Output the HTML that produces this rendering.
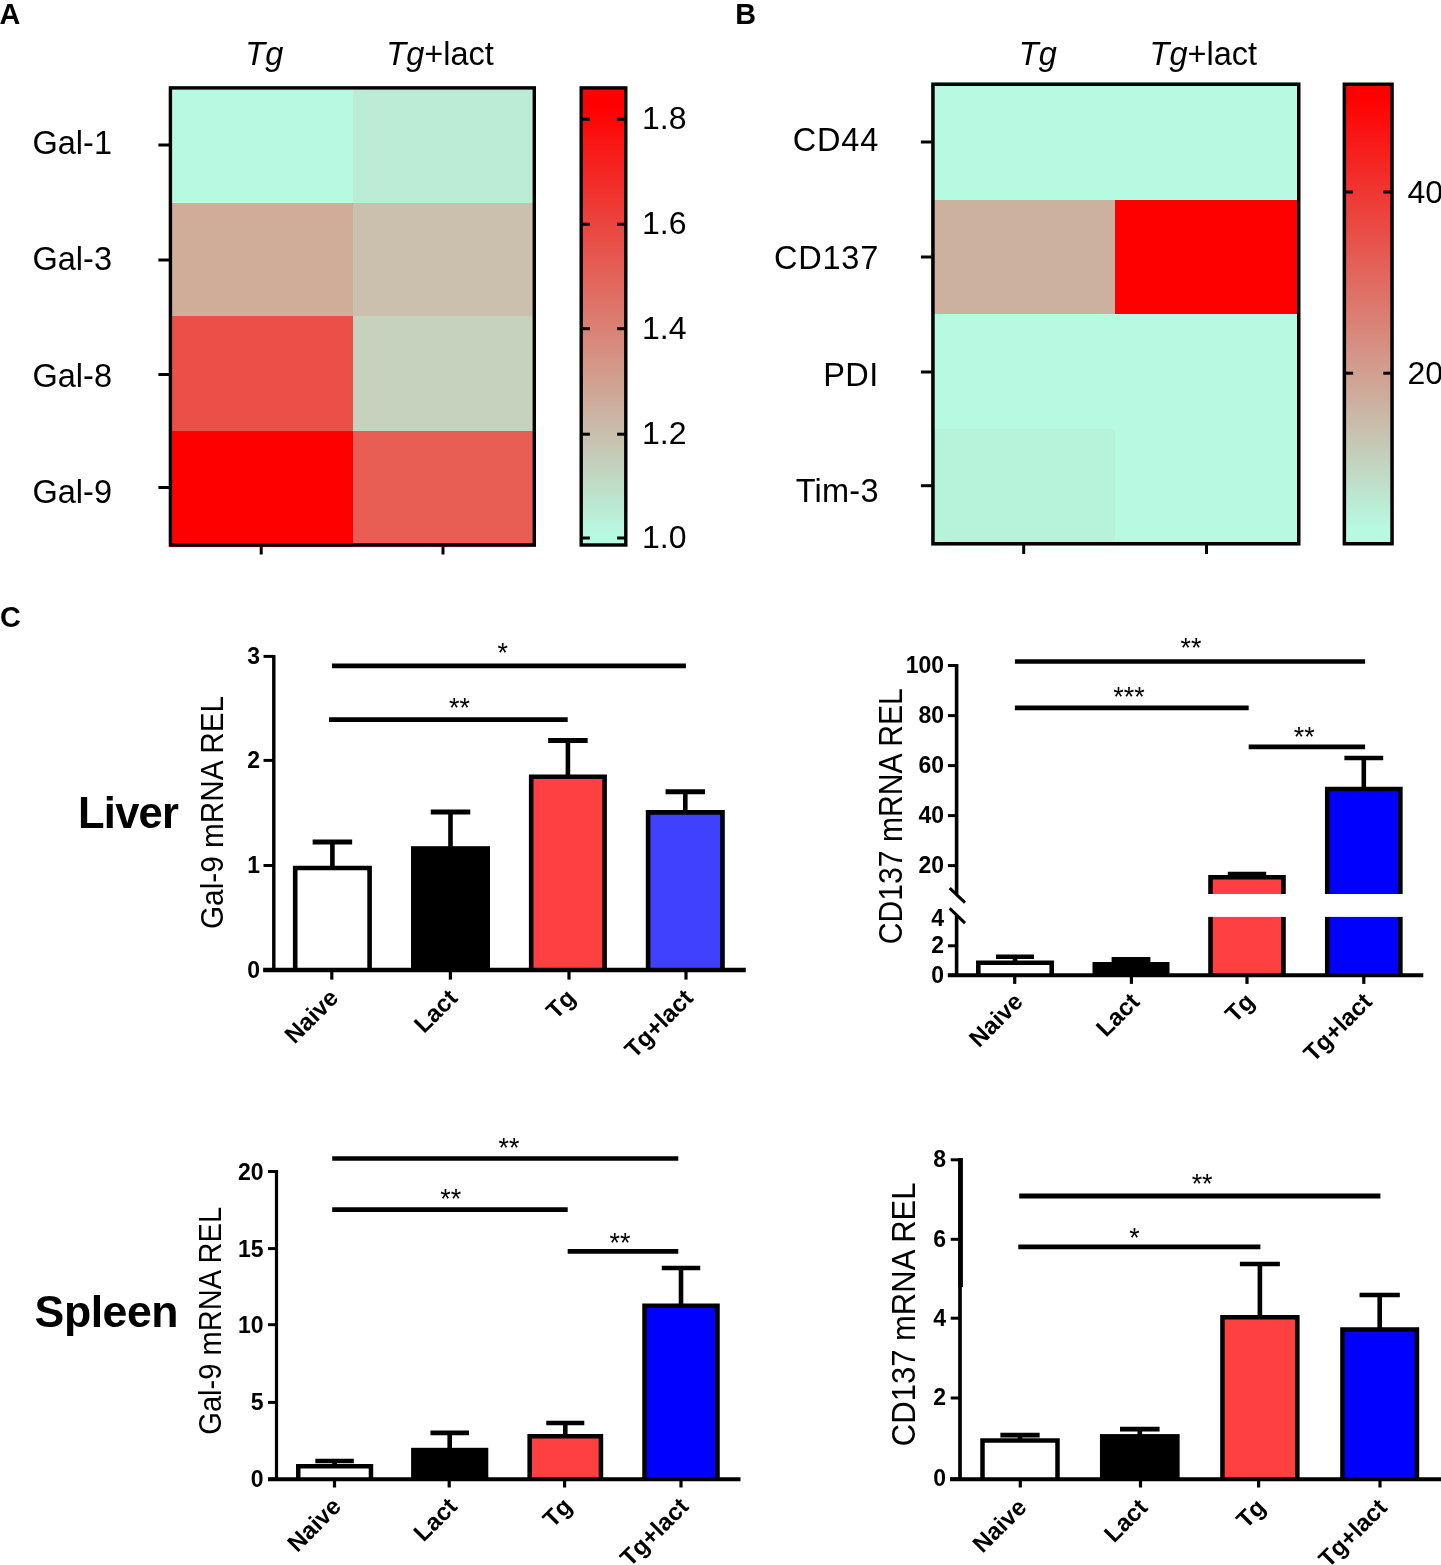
<!DOCTYPE html>
<html lang="en"><head><meta charset="utf-8"><title>Figure</title>
<style>html,body{margin:0;padding:0;background:#fff}body{width:1441px;height:1565px;overflow:hidden}svg{display:block;will-change:transform}text{font-family:"Liberation Sans", sans-serif;fill:#000}</style></head><body>
<svg width="1441" height="1565" viewBox="0 0 1441 1565">
<rect x="0" y="0" width="1441" height="1565" fill="#fff"/>
<text x="-0.5" y="24.1" font-size="28.8" font-weight="bold">A</text>
<text x="735.3" y="24.1" font-size="28.8" font-weight="bold">B</text>
<text x="-0.1" y="627.1" font-size="28.8" font-weight="bold">C</text>
<rect x="169" y="86" width="184" height="117" fill="#b7fae2"/>
<rect x="353" y="86" width="183" height="117" fill="#bcecd6"/>
<rect x="169" y="203" width="184" height="113" fill="#cfad99"/>
<rect x="353" y="203" width="183" height="113" fill="#cbc0ad"/>
<rect x="169" y="316" width="184" height="115" fill="#ec4e48"/>
<rect x="353" y="316" width="183" height="115" fill="#c6d2be"/>
<rect x="169" y="431" width="184" height="116" fill="#ff0000"/>
<rect x="353" y="431" width="183" height="116" fill="#e85e54"/>
<rect x="170.4" y="87.9" width="363.9" height="457.1" fill="none" stroke="#000" stroke-width="3.4"/>
<line x1="158.4" y1="145" x2="169.2" y2="145" stroke="#000" stroke-width="3" stroke-linecap="butt"/>
<line x1="158.4" y1="260" x2="169.2" y2="260" stroke="#000" stroke-width="3" stroke-linecap="butt"/>
<line x1="158.4" y1="374.5" x2="169.2" y2="374.5" stroke="#000" stroke-width="3" stroke-linecap="butt"/>
<line x1="158.4" y1="487.5" x2="169.2" y2="487.5" stroke="#000" stroke-width="3" stroke-linecap="butt"/>
<line x1="261.2" y1="546.2" x2="261.2" y2="554.5" stroke="#000" stroke-width="3" stroke-linecap="butt"/>
<line x1="443" y1="546.2" x2="443" y2="554.5" stroke="#000" stroke-width="3" stroke-linecap="butt"/>
<text x="32.5" y="154" font-size="32.5">Gal-1</text>
<text x="32.5" y="270" font-size="32.5">Gal-3</text>
<text x="32.5" y="387" font-size="32.5">Gal-8</text>
<text x="32.5" y="503" font-size="32.5">Gal-9</text>
<text x="245.3" y="64.5" font-size="32.5"><tspan font-style="italic">Tg</tspan></text>
<text x="386.3" y="64.5" font-size="32.5"><tspan font-style="italic">Tg</tspan>+lact</text>
<defs><linearGradient id="gA" x1="0" y1="0" x2="0" y2="1">
<stop offset="0" stop-color="#ff0000"/>
<stop offset="0.04" stop-color="#ff0000"/>
<stop offset="0.98" stop-color="#b7fae2"/>
<stop offset="1" stop-color="#b7fae2"/>
</linearGradient></defs>
<rect x="581.2" y="87.9" width="44.6" height="457.1" fill="url(#gA)" stroke="#000" stroke-width="3.4"/>
<line x1="582.4" y1="119.2" x2="589.9" y2="119.2" stroke="#000" stroke-width="3" stroke-linecap="butt"/>
<line x1="617.1" y1="119.2" x2="624.6" y2="119.2" stroke="#000" stroke-width="3" stroke-linecap="butt"/>
<text x="642" y="128.7" font-size="32">1.8</text>
<line x1="582.4" y1="224.2" x2="589.9" y2="224.2" stroke="#000" stroke-width="3" stroke-linecap="butt"/>
<line x1="617.1" y1="224.2" x2="624.6" y2="224.2" stroke="#000" stroke-width="3" stroke-linecap="butt"/>
<text x="642" y="233.7" font-size="32">1.6</text>
<line x1="582.4" y1="328.7" x2="589.9" y2="328.7" stroke="#000" stroke-width="3" stroke-linecap="butt"/>
<line x1="617.1" y1="328.7" x2="624.6" y2="328.7" stroke="#000" stroke-width="3" stroke-linecap="butt"/>
<text x="642" y="338.7" font-size="32">1.4</text>
<line x1="582.4" y1="434.2" x2="589.9" y2="434.2" stroke="#000" stroke-width="3" stroke-linecap="butt"/>
<line x1="617.1" y1="434.2" x2="624.6" y2="434.2" stroke="#000" stroke-width="3" stroke-linecap="butt"/>
<text x="642" y="443.7" font-size="32">1.2</text>
<line x1="582.4" y1="538" x2="589.9" y2="538" stroke="#000" stroke-width="3" stroke-linecap="butt"/>
<line x1="617.1" y1="538" x2="624.6" y2="538" stroke="#000" stroke-width="3" stroke-linecap="butt"/>
<text x="642" y="547.5" font-size="32">1.0</text>
<rect x="931" y="82" width="184" height="118" fill="#b7fae2"/>
<rect x="1115" y="82" width="185" height="118" fill="#b7fae2"/>
<rect x="931" y="200" width="184" height="114" fill="#cdb19f"/>
<rect x="1115" y="200" width="185" height="114" fill="#ff0000"/>
<rect x="931" y="314" width="184" height="115" fill="#b7fae2"/>
<rect x="1115" y="314" width="185" height="115" fill="#b7fae2"/>
<rect x="931" y="429" width="184" height="117" fill="#b7f2da"/>
<rect x="1115" y="429" width="185" height="117" fill="#b7fae2"/>
<rect x="932.95" y="84.25" width="365.8" height="459.5" fill="none" stroke="#000" stroke-width="3.5"/>
<line x1="920.9" y1="142" x2="931.7" y2="142" stroke="#000" stroke-width="3" stroke-linecap="butt"/>
<line x1="920.9" y1="257" x2="931.7" y2="257" stroke="#000" stroke-width="3" stroke-linecap="butt"/>
<line x1="920.9" y1="372" x2="931.7" y2="372" stroke="#000" stroke-width="3" stroke-linecap="butt"/>
<line x1="920.9" y1="485.7" x2="931.7" y2="485.7" stroke="#000" stroke-width="3" stroke-linecap="butt"/>
<line x1="1023.7" y1="545" x2="1023.7" y2="554" stroke="#000" stroke-width="3" stroke-linecap="butt"/>
<line x1="1206.5" y1="545" x2="1206.5" y2="554" stroke="#000" stroke-width="3" stroke-linecap="butt"/>
<text x="879.1" y="150.7" font-size="32.5" text-anchor="end" letter-spacing="0.8">CD44</text>
<text x="879.1" y="268.7" font-size="32.5" text-anchor="end" letter-spacing="0.8">CD137</text>
<text x="878.7" y="385.5" font-size="32.5" text-anchor="end" letter-spacing="0.4">PDI</text>
<text x="878.75" y="502" font-size="32.5" text-anchor="end" letter-spacing="0.25">Tim-3</text>
<text x="1018.8" y="64.5" font-size="32.5"><tspan font-style="italic">Tg</tspan></text>
<text x="1149.6" y="64.5" font-size="32.5"><tspan font-style="italic">Tg</tspan>+lact</text>
<defs><linearGradient id="gB" x1="0" y1="0" x2="0" y2="1">
<stop offset="0" stop-color="#ff0000"/>
<stop offset="0.03" stop-color="#ff0000"/>
<stop offset="0.97" stop-color="#b7fae2"/>
<stop offset="1" stop-color="#b7fae2"/>
</linearGradient></defs>
<rect x="1344.35" y="84.25" width="47.7" height="459.5" fill="url(#gB)" stroke="#000" stroke-width="3.5"/>
<line x1="1345.6" y1="192" x2="1353.1" y2="192" stroke="#000" stroke-width="3" stroke-linecap="butt"/>
<line x1="1383.3" y1="192" x2="1390.8" y2="192" stroke="#000" stroke-width="3" stroke-linecap="butt"/>
<text x="1407.5" y="202.5" font-size="32">40</text>
<line x1="1345.6" y1="373.2" x2="1353.1" y2="373.2" stroke="#000" stroke-width="3" stroke-linecap="butt"/>
<line x1="1383.3" y1="373.2" x2="1390.8" y2="373.2" stroke="#000" stroke-width="3" stroke-linecap="butt"/>
<text x="1407.5" y="383.7" font-size="32">20</text>
<line x1="332.4" y1="842" x2="332.4" y2="866.7" stroke="#000" stroke-width="4.6" stroke-linecap="butt"/>
<line x1="312.65" y1="842" x2="352.15" y2="842" stroke="#000" stroke-width="5" stroke-linecap="butt"/>
<rect x="295.2" y="868" width="74.4" height="102" fill="#fff"/>
<path d="M295.2 970 V868 H369.6 V970" fill="none" stroke="#000" stroke-width="4.6"/>
<line x1="450.5" y1="812" x2="450.5" y2="847.2" stroke="#000" stroke-width="4.6" stroke-linecap="butt"/>
<line x1="430.75" y1="812" x2="470.25" y2="812" stroke="#000" stroke-width="5" stroke-linecap="butt"/>
<rect x="411" y="846.2" width="79" height="123.8" fill="#000"/>
<line x1="567.9" y1="740.5" x2="567.9" y2="775.4" stroke="#000" stroke-width="4.6" stroke-linecap="butt"/>
<line x1="548.15" y1="740.5" x2="587.65" y2="740.5" stroke="#000" stroke-width="5" stroke-linecap="butt"/>
<rect x="531.2" y="776.7" width="73.4" height="193.3" fill="#ff4040"/>
<path d="M531.2 970 V776.7 H604.6 V970" fill="none" stroke="#000" stroke-width="4.6"/>
<line x1="685.3" y1="791.8" x2="685.3" y2="811.1" stroke="#000" stroke-width="4.6" stroke-linecap="butt"/>
<line x1="665.55" y1="791.8" x2="705.05" y2="791.8" stroke="#000" stroke-width="5" stroke-linecap="butt"/>
<rect x="648.1" y="812.4" width="74.4" height="157.6" fill="#4040ff"/>
<path d="M648.1 970 V812.4 H722.5 V970" fill="none" stroke="#000" stroke-width="4.6"/>
<line x1="263.2" y1="970" x2="745.8" y2="970" stroke="#000" stroke-width="4.4" stroke-linecap="butt"/>
<line x1="273.8" y1="654.9" x2="273.8" y2="970" stroke="#000" stroke-width="3.4" stroke-linecap="butt"/>
<line x1="263.5" y1="656.4" x2="273.8" y2="656.4" stroke="#000" stroke-width="3" stroke-linecap="butt"/>
<text x="260" y="663.9" font-size="23" font-weight="bold" text-anchor="end">3</text>
<line x1="263.5" y1="760.4" x2="273.8" y2="760.4" stroke="#000" stroke-width="3" stroke-linecap="butt"/>
<text x="260" y="767.9" font-size="23" font-weight="bold" text-anchor="end">2</text>
<line x1="263.5" y1="865.5" x2="273.8" y2="865.5" stroke="#000" stroke-width="3" stroke-linecap="butt"/>
<text x="260" y="873" font-size="23" font-weight="bold" text-anchor="end">1</text>
<line x1="263.5" y1="970" x2="273.8" y2="970" stroke="#000" stroke-width="3" stroke-linecap="butt"/>
<text x="260" y="977.5" font-size="23" font-weight="bold" text-anchor="end">0</text>
<line x1="331.8" y1="970" x2="331.8" y2="979.6" stroke="#000" stroke-width="3.2" stroke-linecap="butt"/>
<text x="339.8" y="999.4" font-size="24" font-weight="bold" text-anchor="end" transform="rotate(-45 339.8 999.4)">Naive</text>
<line x1="450.4" y1="970" x2="450.4" y2="979.6" stroke="#000" stroke-width="3.2" stroke-linecap="butt"/>
<text x="458.8" y="999.4" font-size="24" font-weight="bold" text-anchor="end" transform="rotate(-45 458.8 999.4)">Lact</text>
<line x1="569" y1="970" x2="569" y2="979.6" stroke="#000" stroke-width="3.2" stroke-linecap="butt"/>
<text x="576.8" y="999.4" font-size="24" font-weight="bold" text-anchor="end" transform="rotate(-45 576.8 999.4)">Tg</text>
<line x1="686" y1="970" x2="686" y2="979.6" stroke="#000" stroke-width="3.2" stroke-linecap="butt"/>
<text x="694.3" y="999.4" font-size="24" font-weight="bold" text-anchor="end" transform="rotate(-45 694.3 999.4)">Tg+lact</text>
<text font-size="32" text-anchor="middle" transform="translate(223 812.5) rotate(-90) scale(0.93 1)">Gal-9 mRNA REL</text>
<line x1="332" y1="665.8" x2="685.9" y2="665.8" stroke="#000" stroke-width="4.8" stroke-linecap="butt"/>
<text x="502.7" y="661.6" font-size="26.8" text-anchor="middle">*</text>
<line x1="329" y1="719.6" x2="567.7" y2="719.6" stroke="#000" stroke-width="4.8" stroke-linecap="butt"/>
<text x="459.5" y="716.6" font-size="26.8" text-anchor="middle">**</text>
<line x1="1015" y1="956.7" x2="1015" y2="961.4" stroke="#000" stroke-width="4.6" stroke-linecap="butt"/>
<line x1="996" y1="956.7" x2="1034" y2="956.7" stroke="#000" stroke-width="4.6" stroke-linecap="butt"/>
<rect x="978.3" y="962.7" width="73.4" height="12.6" fill="#fff"/>
<path d="M978.3 975.3 V962.7 H1051.7 V975.3" fill="none" stroke="#000" stroke-width="4.6"/>
<line x1="1131" y1="959.8" x2="1131" y2="963" stroke="#000" stroke-width="4.6" stroke-linecap="butt"/>
<line x1="1111.6" y1="959.8" x2="1150.4" y2="959.8" stroke="#000" stroke-width="5.4" stroke-linecap="butt"/>
<rect x="1092.5" y="962" width="77" height="13.3" fill="#000"/>
<line x1="1247" y1="874" x2="1247" y2="876" stroke="#000" stroke-width="4.6" stroke-linecap="butt"/>
<line x1="1227.8" y1="874" x2="1266.2" y2="874" stroke="#000" stroke-width="4.6" stroke-linecap="butt"/>
<rect x="1210.5" y="877.3" width="73" height="98" fill="#ff4040"/>
<path d="M1210.5 975.3 V877.3 H1283.5 V975.3" fill="none" stroke="#000" stroke-width="4.6"/>
<line x1="1363.8" y1="758" x2="1363.8" y2="787.7" stroke="#000" stroke-width="4.6" stroke-linecap="butt"/>
<line x1="1344.4" y1="758" x2="1383.2" y2="758" stroke="#000" stroke-width="4.6" stroke-linecap="butt"/>
<rect x="1327.25" y="789" width="73.1" height="186.3" fill="#0000ff"/>
<path d="M1327.25 975.3 V789 H1400.35 V975.3" fill="none" stroke="#000" stroke-width="4.6"/>
<rect x="1200" y="894" width="210" height="22.9" fill="#fff"/>
<line x1="947.9" y1="975.3" x2="1423.3" y2="975.3" stroke="#000" stroke-width="4" stroke-linecap="butt"/>
<line x1="956.6" y1="664" x2="956.6" y2="894" stroke="#000" stroke-width="3.6" stroke-linecap="butt"/>
<line x1="956.6" y1="915.7" x2="956.6" y2="975.3" stroke="#000" stroke-width="3.6" stroke-linecap="butt"/>
<line x1="949.7" y1="888.2" x2="965" y2="902.7" stroke="#000" stroke-width="3" stroke-linecap="butt"/>
<line x1="949.7" y1="908.4" x2="965" y2="923.2" stroke="#000" stroke-width="3" stroke-linecap="butt"/>
<line x1="947.9" y1="665.5" x2="956.6" y2="665.5" stroke="#000" stroke-width="3" stroke-linecap="butt"/>
<text x="944" y="673.1" font-size="23" font-weight="bold" text-anchor="end">100</text>
<line x1="947.9" y1="715.6" x2="956.6" y2="715.6" stroke="#000" stroke-width="3" stroke-linecap="butt"/>
<text x="944" y="723.2" font-size="23" font-weight="bold" text-anchor="end">80</text>
<line x1="947.9" y1="765.6" x2="956.6" y2="765.6" stroke="#000" stroke-width="3" stroke-linecap="butt"/>
<text x="944" y="773.2" font-size="23" font-weight="bold" text-anchor="end">60</text>
<line x1="947.9" y1="815.6" x2="956.6" y2="815.6" stroke="#000" stroke-width="3" stroke-linecap="butt"/>
<text x="944" y="823.2" font-size="23" font-weight="bold" text-anchor="end">40</text>
<line x1="947.9" y1="865.6" x2="956.6" y2="865.6" stroke="#000" stroke-width="3" stroke-linecap="butt"/>
<text x="944" y="873.2" font-size="23" font-weight="bold" text-anchor="end">20</text>
<line x1="947.9" y1="945.8" x2="956.6" y2="945.8" stroke="#000" stroke-width="3" stroke-linecap="butt"/>
<text x="944" y="953.4" font-size="23" font-weight="bold" text-anchor="end">2</text>
<line x1="947.9" y1="975.3" x2="956.6" y2="975.3" stroke="#000" stroke-width="3" stroke-linecap="butt"/>
<text x="944" y="982.9" font-size="23" font-weight="bold" text-anchor="end">0</text>
<text x="944" y="925.6" font-size="23" font-weight="bold" text-anchor="end">4</text>
<line x1="1014.7" y1="975.3" x2="1014.7" y2="983.9" stroke="#000" stroke-width="3.2" stroke-linecap="butt"/>
<text x="1024.3" y="1003.1" font-size="24" font-weight="bold" text-anchor="end" transform="rotate(-45 1024.3 1003.1)">Naive</text>
<line x1="1131.4" y1="975.3" x2="1131.4" y2="983.9" stroke="#000" stroke-width="3.2" stroke-linecap="butt"/>
<text x="1140.8" y="1003.1" font-size="24" font-weight="bold" text-anchor="end" transform="rotate(-45 1140.8 1003.1)">Lact</text>
<line x1="1247" y1="975.3" x2="1247" y2="983.9" stroke="#000" stroke-width="3.2" stroke-linecap="butt"/>
<text x="1255.8" y="1003.1" font-size="24" font-weight="bold" text-anchor="end" transform="rotate(-45 1255.8 1003.1)">Tg</text>
<line x1="1363.8" y1="975.3" x2="1363.8" y2="983.9" stroke="#000" stroke-width="3.2" stroke-linecap="butt"/>
<text x="1373.3" y="1003.1" font-size="24" font-weight="bold" text-anchor="end" transform="rotate(-45 1373.3 1003.1)">Tg+lact</text>
<text font-size="32.4" text-anchor="middle" transform="translate(902 816.2) rotate(-90) scale(0.93 1)">CD137 mRNA REL</text>
<line x1="1014.9" y1="661.5" x2="1365.1" y2="661.5" stroke="#000" stroke-width="4.7" stroke-linecap="butt"/>
<text x="1191" y="656.9" font-size="26.8" text-anchor="middle">**</text>
<line x1="1014.9" y1="707.8" x2="1248.7" y2="707.8" stroke="#000" stroke-width="4.7" stroke-linecap="butt"/>
<text x="1129" y="706" font-size="26.8" text-anchor="middle">***</text>
<line x1="1248.7" y1="746.9" x2="1365.1" y2="746.9" stroke="#000" stroke-width="4.7" stroke-linecap="butt"/>
<text x="1304.3" y="746.3" font-size="26.8" text-anchor="middle">**</text>
<line x1="334.6" y1="1461" x2="334.6" y2="1465" stroke="#000" stroke-width="4.6" stroke-linecap="butt"/>
<line x1="315.35" y1="1461" x2="353.85" y2="1461" stroke="#000" stroke-width="4.6" stroke-linecap="butt"/>
<rect x="298.25" y="1466.25" width="72.7" height="12.95" fill="#fff"/>
<path d="M298.25 1479.2 V1466.25 H370.95 V1479.2" fill="none" stroke="#000" stroke-width="4.5"/>
<line x1="449.7" y1="1432.9" x2="449.7" y2="1448.8" stroke="#000" stroke-width="4.6" stroke-linecap="butt"/>
<line x1="430.45" y1="1432.9" x2="468.95" y2="1432.9" stroke="#000" stroke-width="4.6" stroke-linecap="butt"/>
<rect x="411.1" y="1447.8" width="77.2" height="31.4" fill="#000"/>
<line x1="565.3" y1="1423" x2="565.3" y2="1434.9" stroke="#000" stroke-width="4.6" stroke-linecap="butt"/>
<line x1="546.3" y1="1423" x2="584.3" y2="1423" stroke="#000" stroke-width="4.6" stroke-linecap="butt"/>
<rect x="529.65" y="1436.15" width="71.3" height="43.05" fill="#ff4040"/>
<path d="M529.65 1479.2 V1436.15 H600.95 V1479.2" fill="none" stroke="#000" stroke-width="4.5"/>
<line x1="681" y1="1268" x2="681" y2="1304.6" stroke="#000" stroke-width="4.6" stroke-linecap="butt"/>
<line x1="661.75" y1="1268" x2="700.25" y2="1268" stroke="#000" stroke-width="4.6" stroke-linecap="butt"/>
<rect x="644.5" y="1305.85" width="73" height="173.35" fill="#0000ff"/>
<path d="M644.5 1479.2 V1305.85 H717.5 V1479.2" fill="none" stroke="#000" stroke-width="4.5"/>
<line x1="268" y1="1479.2" x2="740.5" y2="1479.2" stroke="#000" stroke-width="4" stroke-linecap="butt"/>
<line x1="276.5" y1="1170" x2="276.5" y2="1479.2" stroke="#000" stroke-width="3.2" stroke-linecap="butt"/>
<line x1="268" y1="1171.5" x2="276.5" y2="1171.5" stroke="#000" stroke-width="3" stroke-linecap="butt"/>
<text x="263.5" y="1179.5" font-size="23" font-weight="bold" text-anchor="end">20</text>
<line x1="268" y1="1248.6" x2="276.5" y2="1248.6" stroke="#000" stroke-width="3" stroke-linecap="butt"/>
<text x="263.5" y="1256.6" font-size="23" font-weight="bold" text-anchor="end">15</text>
<line x1="268" y1="1324.7" x2="276.5" y2="1324.7" stroke="#000" stroke-width="3" stroke-linecap="butt"/>
<text x="263.5" y="1332.7" font-size="23" font-weight="bold" text-anchor="end">10</text>
<line x1="268" y1="1402.4" x2="276.5" y2="1402.4" stroke="#000" stroke-width="3" stroke-linecap="butt"/>
<text x="263.5" y="1410.4" font-size="23" font-weight="bold" text-anchor="end">5</text>
<line x1="268" y1="1479.2" x2="276.5" y2="1479.2" stroke="#000" stroke-width="3" stroke-linecap="butt"/>
<text x="263.5" y="1487.2" font-size="23" font-weight="bold" text-anchor="end">0</text>
<line x1="334.5" y1="1479.2" x2="334.5" y2="1487.5" stroke="#000" stroke-width="3.2" stroke-linecap="butt"/>
<text x="342.5" y="1507.9" font-size="24" font-weight="bold" text-anchor="end" transform="rotate(-45 342.5 1507.9)">Naive</text>
<line x1="449.2" y1="1479.2" x2="449.2" y2="1487.5" stroke="#000" stroke-width="3.2" stroke-linecap="butt"/>
<text x="458.5" y="1507.9" font-size="24" font-weight="bold" text-anchor="end" transform="rotate(-45 458.5 1507.9)">Lact</text>
<line x1="564.6" y1="1479.2" x2="564.6" y2="1487.5" stroke="#000" stroke-width="3.2" stroke-linecap="butt"/>
<text x="573.5" y="1507.9" font-size="24" font-weight="bold" text-anchor="end" transform="rotate(-45 573.5 1507.9)">Tg</text>
<line x1="681" y1="1479.2" x2="681" y2="1487.5" stroke="#000" stroke-width="3.2" stroke-linecap="butt"/>
<text x="690" y="1507.9" font-size="24" font-weight="bold" text-anchor="end" transform="rotate(-45 690 1507.9)">Tg+lact</text>
<text font-size="31.6" text-anchor="middle" transform="translate(220.5 1320.8) rotate(-90) scale(0.92 1)">Gal-9 mRNA REL</text>
<line x1="332.2" y1="1158.5" x2="678.3" y2="1158.5" stroke="#000" stroke-width="4.6" stroke-linecap="butt"/>
<text x="508.9" y="1156.5" font-size="26.8" text-anchor="middle">**</text>
<line x1="332.2" y1="1209.6" x2="567.7" y2="1209.6" stroke="#000" stroke-width="4.6" stroke-linecap="butt"/>
<text x="450.7" y="1207.7" font-size="26.8" text-anchor="middle">**</text>
<line x1="567.7" y1="1251.4" x2="678.3" y2="1251.4" stroke="#000" stroke-width="4.6" stroke-linecap="butt"/>
<text x="620" y="1251.6" font-size="26.8" text-anchor="middle">**</text>
<line x1="1020" y1="1435.1" x2="1020" y2="1439.3" stroke="#000" stroke-width="4.6" stroke-linecap="butt"/>
<line x1="1000.35" y1="1435.1" x2="1039.65" y2="1435.1" stroke="#000" stroke-width="4.7" stroke-linecap="butt"/>
<rect x="982.5" y="1440.55" width="75" height="38.75" fill="#fff"/>
<path d="M982.5 1479.3 V1440.55 H1057.5 V1479.3" fill="none" stroke="#000" stroke-width="4.5"/>
<line x1="1139.8" y1="1429.2" x2="1139.8" y2="1435.1" stroke="#000" stroke-width="4.6" stroke-linecap="butt"/>
<line x1="1120" y1="1429.2" x2="1159.6" y2="1429.2" stroke="#000" stroke-width="4.7" stroke-linecap="butt"/>
<rect x="1099.95" y="1434.1" width="79.7" height="45.2" fill="#000"/>
<line x1="1259.9" y1="1264" x2="1259.9" y2="1316" stroke="#000" stroke-width="4.6" stroke-linecap="butt"/>
<line x1="1239.9" y1="1264" x2="1279.9" y2="1264" stroke="#000" stroke-width="4.7" stroke-linecap="butt"/>
<rect x="1222.45" y="1317.25" width="74.9" height="162.05" fill="#ff4040"/>
<path d="M1222.45 1479.3 V1317.25 H1297.35 V1479.3" fill="none" stroke="#000" stroke-width="4.5"/>
<line x1="1379.7" y1="1295" x2="1379.7" y2="1328.3" stroke="#000" stroke-width="4.6" stroke-linecap="butt"/>
<line x1="1359.55" y1="1295" x2="1399.85" y2="1295" stroke="#000" stroke-width="4.7" stroke-linecap="butt"/>
<rect x="1342.45" y="1329.55" width="74.5" height="149.75" fill="#0000ff"/>
<path d="M1342.45 1479.3 V1329.55 H1416.95 V1479.3" fill="none" stroke="#000" stroke-width="4.5"/>
<line x1="950" y1="1479.3" x2="1441" y2="1479.3" stroke="#000" stroke-width="3.9" stroke-linecap="butt"/>
<line x1="960" y1="1158" x2="960" y2="1479.3" stroke="#000" stroke-width="3.7" stroke-linecap="butt"/>
<line x1="960.6" y1="1158" x2="960.6" y2="1287" stroke="#000" stroke-width="4.6" stroke-linecap="butt"/>
<line x1="950.7" y1="1159.8" x2="960" y2="1159.8" stroke="#000" stroke-width="3" stroke-linecap="butt"/>
<text x="946" y="1167.2" font-size="23" font-weight="bold" text-anchor="end">8</text>
<line x1="950.7" y1="1239.3" x2="960" y2="1239.3" stroke="#000" stroke-width="3" stroke-linecap="butt"/>
<text x="946" y="1246.7" font-size="23" font-weight="bold" text-anchor="end">6</text>
<line x1="950.7" y1="1318.2" x2="960" y2="1318.2" stroke="#000" stroke-width="3" stroke-linecap="butt"/>
<text x="946" y="1325.6" font-size="23" font-weight="bold" text-anchor="end">4</text>
<line x1="950.7" y1="1398" x2="960" y2="1398" stroke="#000" stroke-width="3" stroke-linecap="butt"/>
<text x="946" y="1405.4" font-size="23" font-weight="bold" text-anchor="end">2</text>
<line x1="950.7" y1="1479" x2="960" y2="1479" stroke="#000" stroke-width="3" stroke-linecap="butt"/>
<text x="946" y="1486.4" font-size="23" font-weight="bold" text-anchor="end">0</text>
<line x1="1020.3" y1="1479.3" x2="1020.3" y2="1487.5" stroke="#000" stroke-width="3.2" stroke-linecap="butt"/>
<text x="1027.9" y="1508.8" font-size="24" font-weight="bold" text-anchor="end" transform="rotate(-45 1027.9 1508.8)">Naive</text>
<line x1="1140.5" y1="1479.3" x2="1140.5" y2="1487.5" stroke="#000" stroke-width="3.2" stroke-linecap="butt"/>
<text x="1148.9" y="1508.8" font-size="24" font-weight="bold" text-anchor="end" transform="rotate(-45 1148.9 1508.8)">Lact</text>
<line x1="1258.6" y1="1479.3" x2="1258.6" y2="1487.5" stroke="#000" stroke-width="3.2" stroke-linecap="butt"/>
<text x="1266.9" y="1508.8" font-size="24" font-weight="bold" text-anchor="end" transform="rotate(-45 1266.9 1508.8)">Tg</text>
<line x1="1380" y1="1479.3" x2="1380" y2="1487.5" stroke="#000" stroke-width="3.2" stroke-linecap="butt"/>
<text x="1388.4" y="1508.8" font-size="24" font-weight="bold" text-anchor="end" transform="rotate(-45 1388.4 1508.8)">Tg+lact</text>
<text font-size="33" text-anchor="middle" transform="translate(914.5 1314.3) rotate(-90) scale(0.94 1)">CD137 mRNA REL</text>
<line x1="1019.2" y1="1196" x2="1380.4" y2="1196" stroke="#000" stroke-width="4.8" stroke-linecap="butt"/>
<text x="1202.1" y="1192.9" font-size="26.8" text-anchor="middle">**</text>
<line x1="1018.3" y1="1246.8" x2="1260.4" y2="1246.8" stroke="#000" stroke-width="4.8" stroke-linecap="butt"/>
<text x="1134.5" y="1246.6" font-size="26.8" text-anchor="middle">*</text>
<text x="78" y="828.4" font-size="43.5" font-weight="bold" letter-spacing="-0.75">Liver</text>
<text x="34.6" y="1327.2" font-size="44.6" font-weight="bold" letter-spacing="-0.45">Spleen</text>
</svg></body></html>
